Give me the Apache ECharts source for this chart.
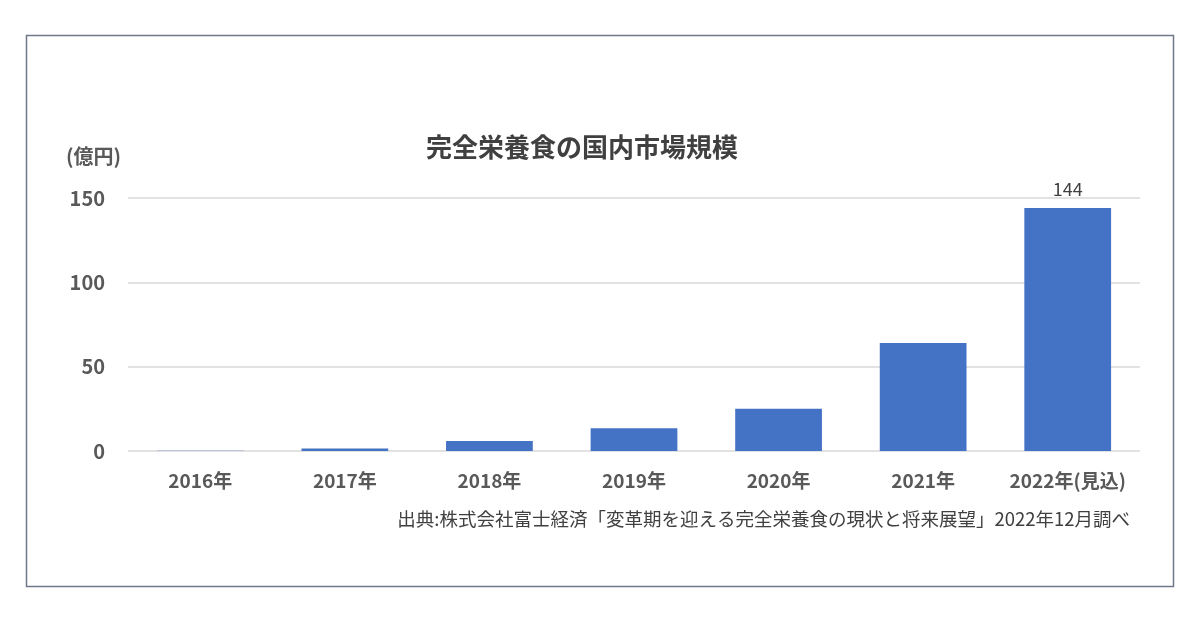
<!DOCTYPE html>
<html>
<head>
    <meta charset="utf-8">
    <title>完全栄養食の国内市場規模</title>
    <script src="https://cdn.jsdelivr.net/npm/echarts@6/dist/echarts.min.js"></script>
    <style>
        html, body { margin: 0; padding: 0; background: #fff; }
    </style>
</head>
<body>
    <div id="main" style="width: 1200px;height:618px;"></div>

    <script>
        // データ
        var years = ['2016年', '2017年', '2018年', '2019年', '2020年', '2021年', '2022年(見込)']
        var marketSize = [0.1, 1.5, 6, 13.5, 25, 64, 144]
        var yTicks = [0, 50, 100, 150]
        var labeledIndex = 6   // 数値ラベルを出すのは最後の棒だけ

        var fontJP = '"Noto Sans CJK JP", "Noto Sans", sans-serif'

        var myChart = echarts.init(document.getElementById('main'));

        var option = {
            backgroundColor: '#ffffff',
            title: {
                text: '完全栄養食の国内市場規模',
                left: 577,
                top: 129,
                textAlign: 'center',
                textStyle: {
                    fontFamily: fontJP,
                    fontSize: 26,
                    fontWeight: 'bold',
                    color: '#404040'
                }
            },
            grid: {
                left: 128,
                right: 60,
                top: 198,
                bottom: 167
            },
            xAxis: {
                type: 'category',
                data: years,
                axisLine: { show: false },
                axisTick: { show: false },
                axisLabel: {
                    interval: 0,
                    hideOverlap: false,
                    margin: 20,
                    fontFamily: fontJP,
                    fontSize: 19,
                    fontWeight: 'bold',
                    color: '#595959'
                }
            },
            yAxis: {
                type: 'value',
                min: yTicks[0],
                max: yTicks[yTicks.length - 1],
                interval: yTicks[1] - yTicks[0],
                name: '(億円)',
                nameLocation: 'end',
                nameGap: 32,
                nameTextStyle: {
                    fontFamily: fontJP,
                    fontSize: 20,
                    fontWeight: 'bold',
                    color: '#595959',
                    align: 'left',
                    padding: [0, 0, 0, -62]
                },
                axisLine: { show: false },
                axisTick: { show: false },
                axisLabel: {
                    margin: 23,
                    fontFamily: fontJP,
                    fontSize: 20,
                    fontWeight: 'bold',
                    color: '#595959'
                },
                splitLine: {
                    lineStyle: { color: '#d9d9d9', width: 1.5 }
                }
            },
            series: [{
                type: 'bar',
                data: marketSize.map(function (v, i) {
                    return {
                        value: v,
                        label: { show: i === labeledIndex }
                    }
                }),
                barWidth: '60%',
                itemStyle: { color: '#4472c4' },
                label: {
                    position: 'top',
                    distance: 10,
                    fontFamily: fontJP,
                    fontSize: 18,
                    color: '#404040'
                }
            }],
            graphic: [
                {
                    // 外枠
                    type: 'rect',
                    shape: { x: 26.5, y: 35.5, width: 1147, height: 551 },
                    style: { fill: 'none', stroke: '#6e7888', lineWidth: 1.5 },
                    silent: true
                },
                {
                    // 出典
                    type: 'text',
                    right: 70,
                    top: 510,
                    style: {
                        text: '出典:株式会社富士経済「変革期を迎える完全栄養食の現状と将来展望」2022年12月調べ',
                        fontFamily: fontJP,
                        fontSize: 18.5,
                        fill: '#404040'
                    }
                }
            ]
        }

        myChart.setOption(option)
    </script>
</body>
</html>
